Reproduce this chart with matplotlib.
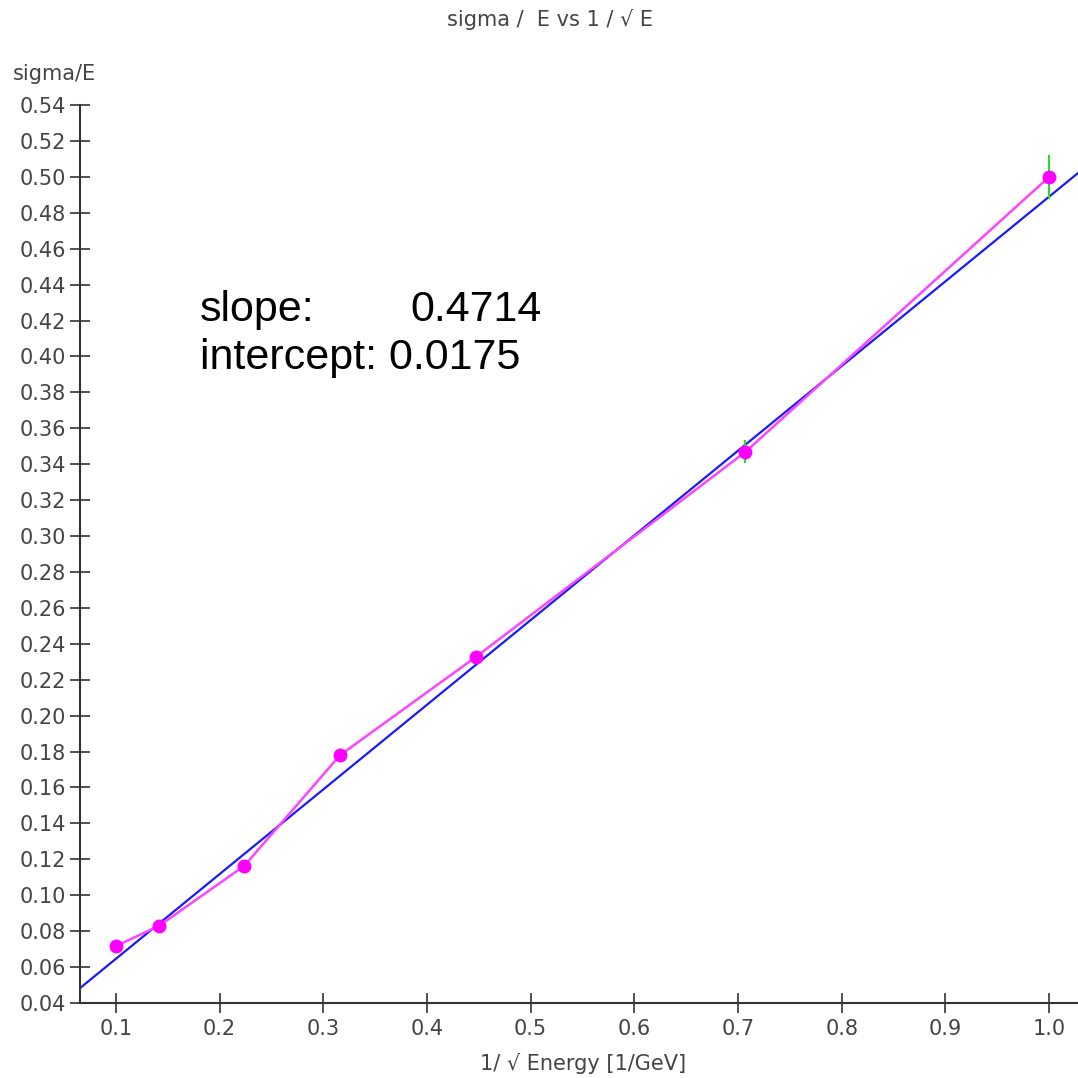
import matplotlib
matplotlib.use("Agg")
import matplotlib.pyplot as plt
import numpy as np

x_vals = [0.1, 0.1414, 0.2236, 0.3162, 0.4472, 0.7071, 1.0]
y_vals = [0.0717, 0.0829, 0.1163, 0.1780, 0.2327, 0.3468, 0.4999]
y_err = [0.001, 0.001, 0.0015, 0.002, 0.003, 0.0064, 0.0125]
slope = 0.4714
intercept = 0.0175
x_ticks = [0.1, 0.2, 0.3, 0.4, 0.5, 0.6, 0.7, 0.8, 0.9, 1.0]
y_ticks = [round(0.04 + 0.02 * i, 2) for i in range(26)]

W = 1078
fig = plt.figure(figsize=(10.78, 10.78), dpi=100)
ax = fig.add_axes([80/W, 75/W, 998/W, (1003-105)/W])
ax.set_xlim(0.0653, 1.028)
ax.set_ylim(0.04, 0.54)

ax.axline((0, intercept), slope=slope, color="#1a1aff", lw=1.6, zorder=2)
ax.errorbar(x_vals, y_vals, yerr=y_err, fmt="none", ecolor="#22dd22", elinewidth=1.5, zorder=3)
ax.plot(x_vals, y_vals, color="#ff44ff", lw=1.8, marker="o", markersize=9,
        markerfacecolor="#ff00ff", markeredgecolor="#ff00ff", zorder=4)

for s in ["top", "right"]:
    ax.spines[s].set_visible(False)
for s in ["left", "bottom"]:
    ax.spines[s].set_color("#333333")
    ax.spines[s].set_linewidth(1.5)

ax.set_xticks(x_ticks)
ax.set_xticklabels([f"{v:.1f}" for v in x_ticks])
ax.set_yticks(y_ticks)
ax.set_yticklabels([f"{v:.2f}" for v in y_ticks])
ax.tick_params(axis="both", direction="inout", length=14.4, width=1.2, color="#333333",
               labelcolor="#444444", labelsize=15)
ax.tick_params(axis="x", pad=4)
ax.tick_params(axis="y", pad=3)

txt_kw = dict(fontsize=31, family="Liberation Sans", va="baseline", ha="left", color="black")
fig.text(200/W, 1 - 321/W, "slope:", **txt_kw)
fig.text(410/W, 1 - 321/W, f"{slope:.4f}", **txt_kw)
fig.text(200/W, 1 - 369/W, f"intercept: {intercept:.4f}", **txt_kw)

fig.text(550/W, 1 - 20/W, "sigma /  E vs 1 / \u221a E", ha="center", va="center",
         fontsize=15, color="#444444")
fig.text(13/W, 1 - 74/W, "sigma/E", ha="left", va="center", fontsize=15, color="#444444")
fig.text(583/W, 1 - 1063/W, "1/ \u221a Energy [1/GeV]", ha="center", va="center",
         fontsize=15, color="#444444")

fig.savefig("out.png", dpi=100)
